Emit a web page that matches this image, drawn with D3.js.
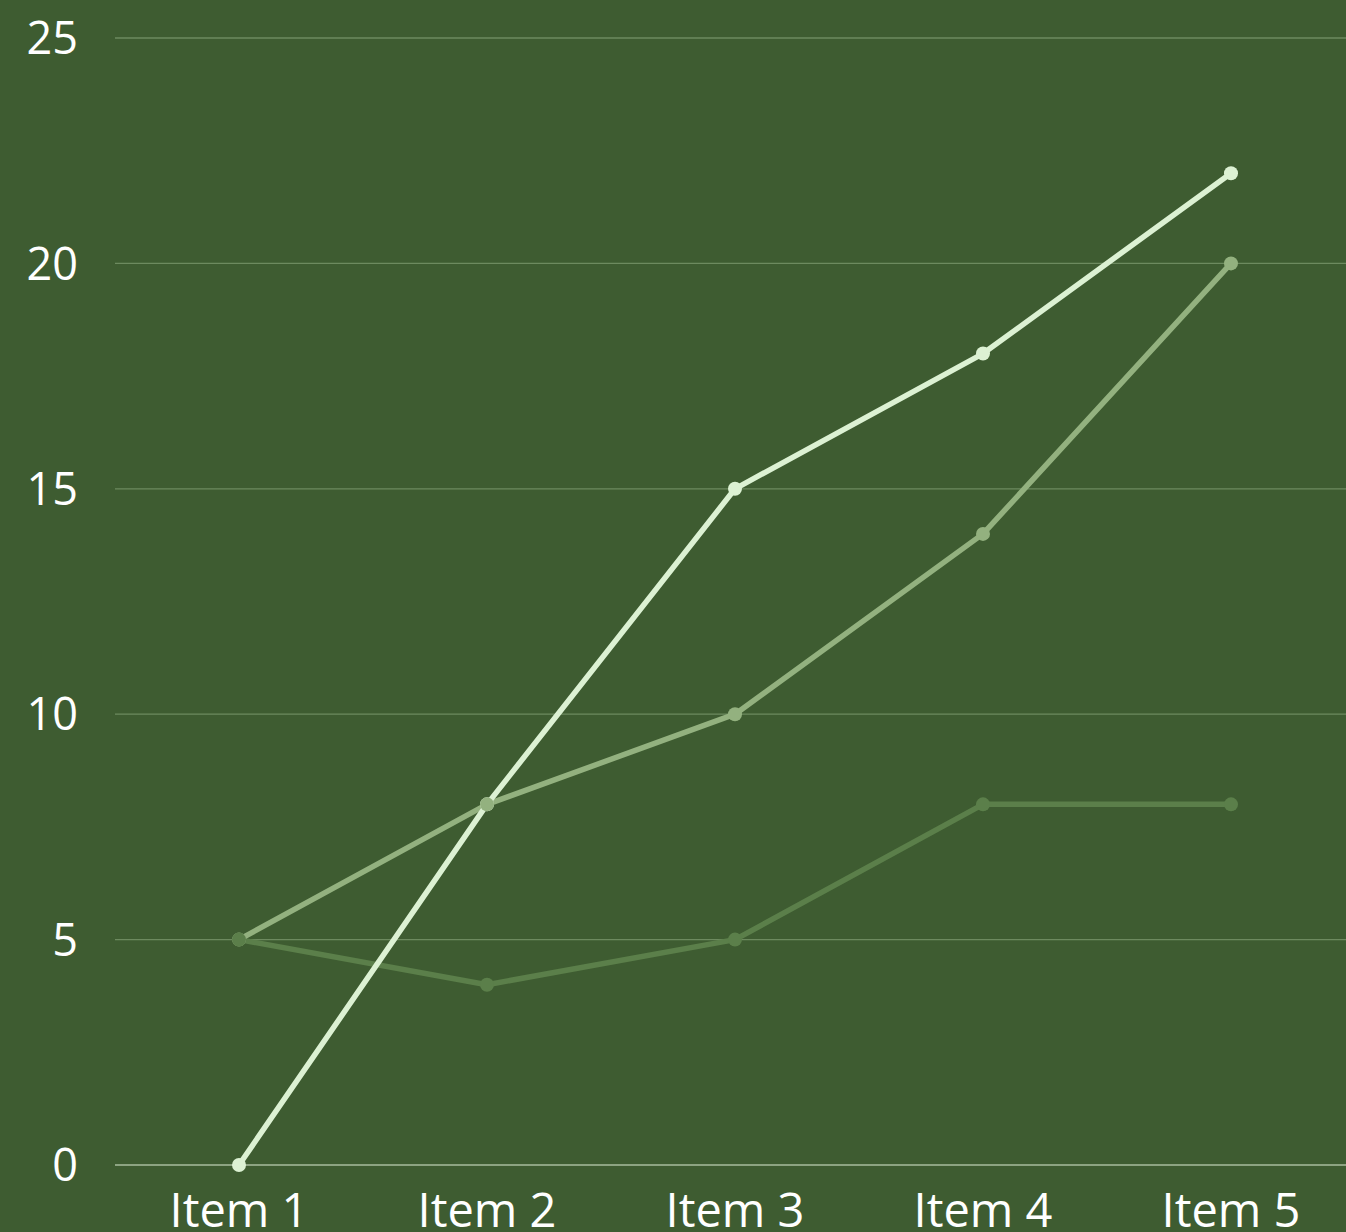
<!DOCTYPE html>
<html>
<head>
<meta charset="utf-8">
<script src="https://cdn.jsdelivr.net/npm/d3@7"></script>
<style>
    html, body { margin: 0; padding: 0; background: #3e5c31; }
    svg { display: block; }
    text { font-family: "Open Sans", sans-serif; fill: #ffffff; }
</style>
</head>
<body>
<svg id="chart"></svg>
<script>
const categories = ['Item 1', 'Item 2', 'Item 3', 'Item 4', 'Item 5'];
const yTicks = [0, 5, 10, 15, 20, 25];
const series1 = [0, 8, 15, 18, 22];
const series2 = [5, 8, 10, 14, 20];
const series3 = [5, 4, 5, 8, 8];

const width = 1346, height = 1232;
const svg = d3.select('#chart').attr('width', width).attr('height', height);

const x = d3.scalePoint().domain(categories).range([115, 1355]).padding(0.5);
const y = d3.scaleLinear().domain([0, 25]).range([1165, 38]);

// gridlines
svg.append('g')
    .selectAll('line')
    .data(yTicks)
    .enter()
    .append('line')
    .attr('x1', 115)
    .attr('x2', width)
    .attr('y1', d => y(d))
    .attr('y2', d => y(d))
    .style('stroke', d => d === 0 ? '#a9bc9e' : '#6d8a5f')
    .style('stroke-width', '1.3px');

// y labels
svg.append('g')
    .selectAll('text')
    .data(yTicks)
    .enter()
    .append('text')
    .attr('x', 78)
    .attr('y', d => y(d))
    .attr('dy', '0.36em')
    .attr('text-anchor', 'end')
    .style('font-size', '45px')
    .text(d => d);

// x labels
svg.append('g')
    .selectAll('text')
    .data(categories)
    .enter()
    .append('text')
    .attr('x', d => x(d))
    .attr('y', 1227)
    .attr('text-anchor', 'middle')
    .style('font-size', '47px')
    .text(d => d);

const series = [
    { values: series3, color: '#5b7f4a' },
    { values: series2, color: '#93b17f' },
    { values: series1, color: '#dcf1d3' }
];

const line = d3.line()
    .x((d, i) => x(categories[i]))
    .y(d => y(d));

series.forEach(s => {
    svg.append('path')
        .datum(s.values)
        .attr('d', line)
        .style('fill', 'none')
        .style('stroke', s.color)
        .style('stroke-width', '5.5px')
        .style('stroke-linejoin', 'round');
});

// dots: light, medium, dark
[series[2], series[1], series[0]].forEach(s => {
    svg.append('g')
        .selectAll('circle')
        .data(s.values)
        .enter()
        .append('circle')
        .attr('cx', (d, i) => x(categories[i]))
        .attr('cy', d => y(d))
        .attr('r', 7)
        .style('fill', s.color);
});
</script>
</body>
</html>
